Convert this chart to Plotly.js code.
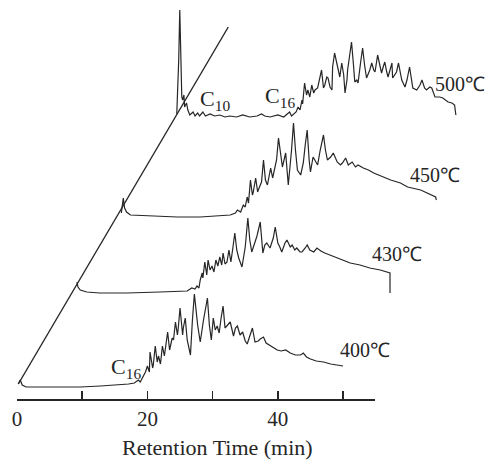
<!DOCTYPE html>
<html>
<head>
<meta charset="utf-8">
<script src="https://cdn.plot.ly/plotly-3.0.1.min.js"></script>
<style>html,body{margin:0;padding:0;background:#fff;}#chart{width:486px;height:462px;}</style>
</head>
<body>
<div id="chart"></div>
<script>
// Retention time (min, from each run's injection) and detector signal (arbitrary units)
const t400 = [0.0,0.3,0.6,1.2,3.4,6.4,9.5,12.6,15.6,16.9,17.8,18.4,18.7,19.2,19.5,19.8,20.1,20.2,20.6,20.7,21.0,21.3,21.5,21.8,22.1,22.4,22.5,22.9,23.2,23.3,23.6,23.8,24.1,24.4,24.5,24.8,25.2,25.3,25.6,25.9,26.4,26.7,27.0,27.5,27.9,28.4,28.7,29.0,29.3,29.6,29.9,30.2,30.5,30.8,31.1,31.4,31.7,32.1,32.5,33.0,33.3,33.6,34.0,34.4,34.8,35.1,35.6,35.9,36.3,36.8,37.1,37.6,38.0,38.7,39.3,39.7,40.3,41.0,41.7,42.5,43.3,43.7,44.2,44.8,45.7,46.8,47.9,48.9,49.8];
const s400 = [2,6,1,-1,-1,-1,-1,0,1,2,3,6,4,11,14,20,14,34,18,21,40,24,30,22,40,30,34,54,36,40,48,46,64,51,56,78,51,58,68,46,31,66,92,61,44,66,76,88,61,46,68,56,60,53,68,80,58,61,64,50,58,60,51,54,45,42,51,58,44,45,47,49,43,40,37,36,35,36,33,31,31,33,29,27,25,24,22,21,20];

const t430 = [0.0,0.15,0.5,1.5,3.5,7.7,12.7,16.9,17.6,18.1,18.4,18.7,18.9,19.2,19.3,19.6,19.9,20.1,20.4,20.7,21.0,21.3,21.6,21.9,22.2,22.4,22.7,23.0,23.3,23.6,23.9,24.2,24.5,24.8,25.3,25.8,26.2,26.5,26.8,27.3,27.6,28.1,28.4,28.5,28.8,29.1,29.6,30.1,30.4,30.8,31.1,31.4,31.9,32.2,32.7,33.0,33.4,33.7,34.2,34.5,35.0,35.3,35.7,36.3,36.8,37.4,38.0,38.8,39.9,41.0,41.9,43.4,44.9,46.5,47.5,48.0,48.0];
const s430 = [10,5,2,0,-1,-1,0,1,4,3,6,4,12,19,14,30,17,32,22,26,20,32,26,35,27,39,28,30,42,30,44,59,42,34,25,45,74,52,40,49,56,70,47,39,47,49,44,54,65,49,45,40,49,52,45,47,42,44,40,40,44,47,42,40,44,41,39,37,34,31,29,27,24,22,20,19,-1];

const t450 = [0.0,0.3,0.5,0.8,1.4,4.4,8.6,12.1,16.7,17.5,17.8,18.3,18.7,19.0,19.3,19.5,19.8,20.1,20.2,20.6,20.9,21.0,21.5,21.8,22.1,22.4,22.9,23.2,23.3,23.8,24.1,24.4,24.7,25.2,25.6,26.1,26.4,26.7,27.0,27.5,27.9,28.2,28.5,28.8,29.0,29.4,30.1,30.5,31.0,31.3,31.6,32.1,32.5,33.1,33.6,33.9,34.4,34.8,35.4,35.9,36.3,37.1,37.9,38.7,39.7,41.3,42.8,43.9,45.9,47.1,48.2,48.3];
const s450 = [2,17,7,3,0,-1,-2,-2,0,2,5,3,10,8,18,12,35,20,22,37,23,25,33,55,35,30,47,37,40,55,77,60,48,62,30,65,92,65,45,40,52,70,85,55,43,58,50,65,80,65,55,58,62,53,50,52,57,50,53,48,50,47,45,42,39,35,32,28,25,21,18,15];

const t500 = [0.0,0.3,0.46,0.6,0.77,0.9,1.1,1.2,1.5,1.7,2.0,2.5,2.8,3.2,3.5,4.0,4.4,5.1,5.8,6.6,7.4,8.1,9.2,10.1,11.2,12.3,13.0,13.5,14.3,15.5,16.4,17.3,17.6,18.3,18.6,18.9,19.2,19.3,19.6,19.9,20.1,20.4,20.7,21.0,21.2,21.6,21.9,22.2,22.5,22.7,23.0,23.2,23.5,23.8,23.9,24.2,24.5,24.7,25.0,25.3,25.6,25.8,26.1,26.2,26.5,26.8,27.1,27.3,27.6,27.8,28.2,28.5,28.8,29.1,29.6,29.9,30.2,30.4,30.8,31.1,31.4,31.7,31.9,32.2,32.4,32.7,33.0,33.1,33.4,33.7,34.0,34.5,35.0,35.3,35.7,36.2,36.8,37.3,37.6,38.0,38.3,38.8,39.1,39.6,40.3,40.8,41.6,42.2,42.6,42.8];
const s500 = [2,56,106,56,19,16,21,9,13,6,1,4,0,3,0,4,0,2,0,1,-1,0,-1,1,-1,0,2,0,-1,1,-1,4,0,4,9,6,16,12,33,21,26,19,31,23,26,28,36,46,28,31,39,38,29,26,49,63,54,49,39,53,41,23,36,46,61,74,51,34,36,33,54,68,51,38,46,53,46,44,61,51,43,50,54,44,39,46,53,38,41,44,53,36,29,36,49,28,26,31,36,28,26,29,28,19,19,18,14,13,11,1];

// Series names and stacking offsets of the pseudo-3D display (time shift, signal shift)
const seriesNames = ['400℃','430℃','450℃','500℃'];
const offsetT = [0.2, 9.2, 16.0, 24.5];
const offsetS = [14, 108, 185, 284];

// Oblique temperature axis (start / end)
const tempAxisT = [0.2, 32.4];
const tempAxisS = [16, 373];

// Bottom axis ticks
const labelTickVals = [0,20,40];
const labelTickText = ['0','20','40'];
const minorTickVals = [10,30,50];
const axisEnd = 54.9;

const times = [t400,t430,t450,t500];
const sigs = [s400,s430,s450,s500];
const ink = '#262626';
const serif = '"Liberation Serif","Times New Roman",serif';

const traces = times.map((t,i)=>({
  type:'scatter', mode:'lines', name: seriesNames[i],
  x: t.map(v=>v+offsetT[i]), y: sigs[i].map(v=>v+offsetS[i]),
  line:{color:ink,width:1.2,shape:'linear'}, hoverinfo:'skip'
}));
traces.push({type:'scatter',mode:'lines',x:tempAxisT,y:tempAxisS,line:{color:ink,width:1.4},hoverinfo:'skip'});

const lblPos = [[53.4,50],[58.3,146],[64.1,225],[67.9,316]];
const annotations = seriesNames.map((n,i)=>({
  x:lblPos[i][0], y:lblPos[i][1], xref:'x', yref:'y', text:n, showarrow:false,
  font:{family:serif,size:20,color:ink}
}));
annotations.push({x:30.4,y:300,xref:'x',yref:'y',text:'C<sub>10</sub>',showarrow:false,font:{family:serif,size:22,color:ink}});
annotations.push({x:40.3,y:303,xref:'x',yref:'y',text:'C<sub>16</sub>',showarrow:false,font:{family:serif,size:22,color:ink}});
annotations.push({x:16.7,y:32,xref:'x',yref:'y',text:'C<sub>16</sub>',showarrow:false,font:{family:serif,size:22,color:ink}});
annotations.push({x:0.434,y:-0.118,xref:'paper',yref:'paper',text:'Retention Time (min)',showarrow:false,yanchor:'middle',font:{family:serif,size:22,color:ink}});

const layout = {
  width:486, height:462,
  margin:{l:17,r:6,t:0,b:62},
  paper_bgcolor:'#fff', plot_bgcolor:'#fff',
  showlegend:false,
  xaxis:{range:[0,71.0], showgrid:false, zeroline:false, showline:false,
    ticks:'inside', ticklen:9, tickwidth:1.6, tickcolor:ink,
    tickmode:'array', tickvals:labelTickVals, ticktext:labelTickText,
    ticklabelstandoff:4,
    tickfont:{family:serif,size:21,color:ink},
    minor:{tickmode:'array', tickvals:minorTickVals, ticks:'inside', ticklen:9, tickwidth:1.6, tickcolor:ink, showgrid:false}},
  yaxis:{range:[0,400], visible:false, showgrid:false, zeroline:false},
  shapes:[{type:'line',xref:'x',yref:'paper',x0:0,x1:axisEnd,y0:0,y1:0,line:{color:ink,width:2}}],
  annotations: annotations
};
Plotly.newPlot('chart', traces, layout, {staticPlot:true});
</script>
</body>
</html>
